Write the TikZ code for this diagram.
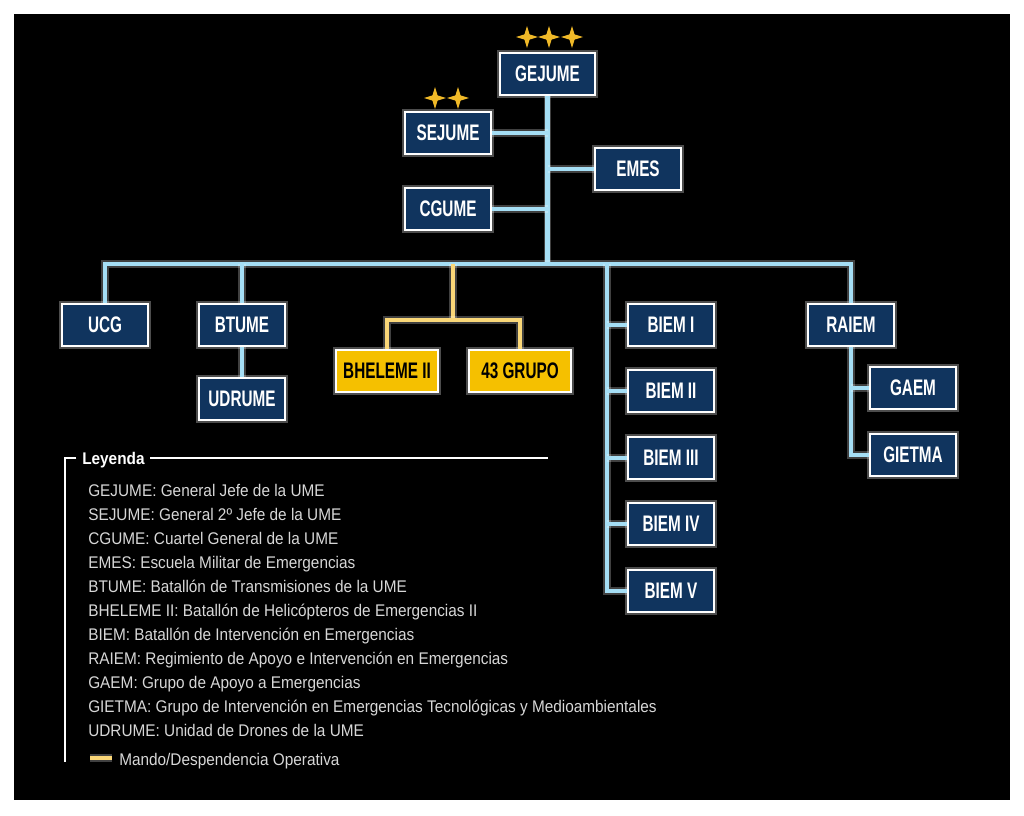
\documentclass[tikz,border=0pt]{standalone}
\usepackage{fontspec}
\usepackage{tikz}
\usetikzlibrary{calc,shapes.geometric}
\setmainfont{Liberation Sans}
\newfontfamily\boxfont{Liberation Sans}[FakeStretch=0.68]
\newfontfamily\legfont{Liberation Sans}[FakeStretch=0.91]
\definecolor{navy}{RGB}{16,52,94}
\definecolor{cyanline}{RGB}{165,222,245}
\definecolor{gold}{RGB}{245,192,0}
\definecolor{goldline}{RGB}{250,215,120}
\definecolor{starcol}{RGB}{240,185,40}
\definecolor{legtext}{RGB}{215,215,215}
\tikzset{
	unit/.style={draw=white, line width=1.4pt, fill=navy, text=white,
		font=\boxfont\bfseries\fontsize{16}{18}\selectfont,
		minimum width=2.15cm, minimum height=1.05cm, inner sep=0pt,
		preaction={draw=white, opacity=.3, line width=4.5pt}},
	opunit/.style={unit, fill=gold, text=black, minimum width=2.55cm},
	conn/.style={draw=cyanline, line width=3pt,
		preaction={draw=white, opacity=.25, line width=5.5pt}},
	yline/.style={draw=goldline, line width=3pt,
		preaction={draw=white, opacity=.25, line width=5.5pt}},
	star4/.style={star, star points=4, star point ratio=3, fill=starcol,
		minimum size=0.55cm, inner sep=0pt},
	legitem/.style={anchor=base west, inner sep=0pt, text=legtext,
		font=\legfont\fontsize{12}{14}\selectfont}
}
\begin{document}
\begin{tikzpicture}[x=0.025cm, y=-0.025cm]
			%%%%% FRAME %%%%%
			\fill[white] (0, 0) rectangle (1024, 815);
			\fill[black] (14, 14) rectangle (1010, 800);
			\useasboundingbox (0, 0) rectangle (1024, 815);
			
			%%%%% MANDO %%%%%
			\node[unit, minimum width=2.375cm] (gejume) at (547.5, 74) {GEJUME};
			\node[star4] (st1) at (527, 37) {};
			\node[star4] (st2) at (549, 37) {};
			\node[star4] (st3) at (572, 37) {};
			
			\node[unit] (sejume) at (448, 133) {SEJUME};
			\node[star4] (st4) at (435, 98) {};
			\node[star4] (st5) at (458, 98) {};
			
			\node[unit] (emes) at (638, 169) {EMES};
			\node[unit] (cgume) at (448, 209) {CGUME};
			
			%%%%% UNIDADES %%%%%
			\node[unit] (ucg) at (105, 325) {UCG};
			\node[unit] (btume) at (242, 325) {BTUME};
			\node[unit] (udrume) at (242, 399) {UDRUME};
			
			\node[opunit] (bheleme) at (387, 371) {BHELEME II};
			\node[opunit] (grupo) at (520, 371) {43 GRUPO};
			
			\node[unit] (biemi) at (671, 325) {BIEM I};
			\node[unit] (biemii) at (671, 391) {BIEM II};
			\node[unit] (biemiii) at (671, 458) {BIEM III};
			\node[unit] (biemiv) at (671, 524) {BIEM IV};
			\node[unit] (biemv) at (671, 591) {BIEM V};
			
			\node[unit] (raiem) at (851, 325) {RAIEM};
			\node[unit] (gaem) at (913, 388) {GAEM};
			\node[unit] (gietma) at (913, 455) {GIETMA};
			
			%%%%% CONECTORES %%%%%
			\coordinate (bus) at (547.5, 264);
			\coordinate (bcol) at (607, 264);
			\coordinate (yel) at (453, 320);
			
			\draw[conn] (gejume.south) -- (bus);
			\draw[conn] (sejume.east) -- (sejume.east -| gejume.south);
			\draw[conn] (emes.west) -- (emes.west -| gejume.south);
			\draw[conn] (cgume.east) -- (cgume.east -| gejume.south);
			\draw[conn] (ucg.north) |- (bus) -| (raiem.north);
			\draw[conn] (btume.north) -- (btume.north |- bus);
			\draw[conn] (btume.south) -- (udrume.north);
			
			\draw[conn] (bcol) |- (biemv.west);
			\draw[conn] (bcol |- biemi) -- (biemi.west);
			\draw[conn] (bcol |- biemii) -- (biemii.west);
			\draw[conn] (bcol |- biemiii) -- (biemiii.west);
			\draw[conn] (bcol |- biemiv) -- (biemiv.west);
			
			\draw[conn] (raiem.south) |- (gietma.west);
			\draw[conn] (raiem.south |- gaem) -- (gaem.west);
			
			\draw[yline] (yel |- bus) -- (yel);
			\draw[yline] (bheleme.north) |- (yel) -| (grupo.north);
			
			%%%%% LEYENDA %%%%%
			\node[legitem, text=white, font=\legfont\bfseries\fontsize{12}{14}\selectfont] (leyenda) at (82, 464) {Leyenda};
			\coordinate (lgtop) at (65, 458);
			\coordinate (lgbot) at (65, 762);
			\coordinate (lgend) at (548, 458);
			\draw[white, line width=0.8pt] ([xshift=-4pt]leyenda.west |- lgtop) -- (lgtop) -- (lgbot);
			\draw[white, line width=0.8pt] ([xshift=4pt]leyenda.east |- lgtop) -- (lgend);
			
			\node[legitem] (l1) at (88, 496) {GEJUME: General Jefe de la UME};
			\node[legitem] (l2) at (88, 520) {SEJUME: General 2º Jefe de la UME};
			\node[legitem] (l3) at (88, 544) {CGUME: Cuartel General de la UME};
			\node[legitem] (l4) at (88, 568) {EMES: Escuela Militar de Emergencias};
			\node[legitem] (l5) at (88, 592) {BTUME: Batallón de Transmisiones de la UME};
			\node[legitem] (l6) at (88, 616) {BHELEME II: Batallón de Helicópteros de Emergencias II};
			\node[legitem] (l7) at (88, 640) {BIEM: Batallón de Intervención en Emergencias};
			\node[legitem] (l8) at (88, 664) {RAIEM: Regimiento de Apoyo e Intervención en Emergencias};
			\node[legitem] (l9) at (88, 688) {GAEM: Grupo de Apoyo a Emergencias};
			\node[legitem] (l10) at (88, 712) {GIETMA: Grupo de Intervención en Emergencias Tecnológicas y Medioambientales};
			\node[legitem] (l11) at (88, 736) {UDRUME: Unidad de Drones de la UME};
			
			\coordinate (swa) at (90, 758);
			\coordinate (swb) at (112, 758);
			\draw[yline, line width=2.8pt] (swa) -- (swb);
			\node[legitem] (l12) at (119, 765) {Mando/Despendencia Operativa};
\end{tikzpicture}
\end{document}
